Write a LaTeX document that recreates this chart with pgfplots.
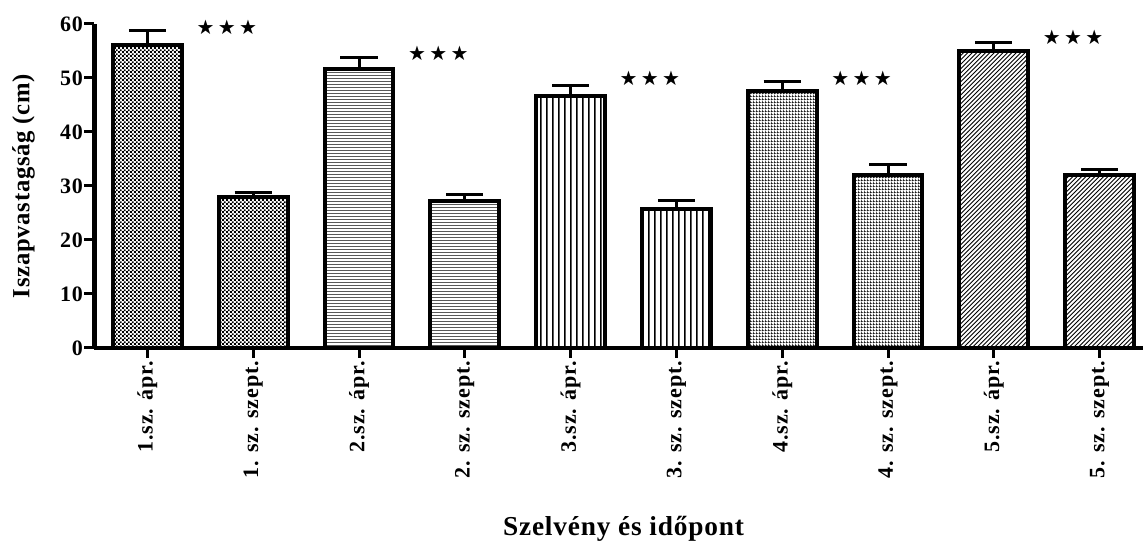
\documentclass[border=0pt]{standalone}
\usepackage{fontspec}
\setmainfont{Liberation Serif}
\newfontfamily\starfont{DejaVu Sans}
\newfontfamily\tickff[LetterSpace=4]{Liberation Serif}
\newfontfamily\ylff[LetterSpace=3]{Liberation Serif}
\newfontfamily\xlff[LetterSpace=3]{Liberation Serif}
\usepackage{pgfplots}
\pgfplotsset{compat=1.18}
\usetikzlibrary{patterns}

\pgfdeclarepatternformonly{pchecker}{\pgfpointorigin}{\pgfpoint{3.2pt}{3.2pt}}{\pgfpoint{3.2pt}{3.2pt}}{%
  \pgfpathrectangle{\pgfpointorigin}{\pgfpoint{1.6pt}{1.6pt}}%
  \pgfpathrectangle{\pgfpoint{1.6pt}{1.6pt}}{\pgfpoint{1.6pt}{1.6pt}}%
  \pgfusepath{fill}}
\pgfdeclarepatternformonly{phlines}{\pgfpointorigin}{\pgfpoint{4pt}{2.25pt}}{\pgfpoint{4pt}{2.25pt}}{%
  \pgfpathrectangle{\pgfpoint{0pt}{0pt}}{\pgfpoint{4pt}{0.7pt}}\pgfusepath{fill}}
\pgfdeclarepatternformonly{pvlines}{\pgfpointorigin}{\pgfpoint{4.5pt}{4pt}}{\pgfpoint{4.5pt}{4pt}}{%
  \pgfpathrectangle{\pgfpoint{0pt}{0pt}}{\pgfpoint{1.4pt}{4pt}}\pgfusepath{fill}}
\pgfdeclarepatternformonly{pgrid}{\pgfpointorigin}{\pgfpoint{2.25pt}{2.25pt}}{\pgfpoint{2.25pt}{2.25pt}}{%
  \pgfpathrectangle{\pgfpointorigin}{\pgfpoint{0.7pt}{2.25pt}}%
  \pgfpathrectangle{\pgfpointorigin}{\pgfpoint{2.25pt}{0.7pt}}\pgfusepath{fill}}
\pgfdeclarepatternformonly{pdiag}{\pgfpoint{-1pt}{-1pt}}{\pgfpoint{4.3pt}{4.3pt}}{\pgfpoint{3.3pt}{3.3pt}}{%
  \pgfsetlinewidth{0.65pt}\pgfpathmoveto{\pgfpoint{0pt}{0pt}}\pgfpathlineto{\pgfpoint{3.4pt}{3.4pt}}\pgfusepath{stroke}}

\pgfplotsset{
  barsty/.style={ybar, bar width=0.65, bar shift=0pt, draw=black, line width=3pt,
    error bars/y dir=plus, error bars/y explicit,
    error bars/error bar style={line width=2.25pt, black, solid},
    error bars/error mark options={rotate=90, mark size=13.9pt, line width=2.25pt, black}},
}

\begin{document}
\begin{tikzpicture}
\useasboundingbox (-70.875pt,-144.75pt) rectangle (786.375pt,261pt);
\begin{axis}[
  width=793.5pt, height=243pt, scale only axis,
  xmin=-0.5, xmax=9.5, ymin=0, ymax=60,
  clip=false,
  axis x line*=bottom, axis y line*=left,
  axis line style={line width=3.5pt, -},
  xtick={0,...,9},
  xticklabels={1.sz. ápr., 1. sz. szept., 2.sz. ápr., 2. sz. szept., 3.sz. ápr., 3. sz. szept., 4.sz. ápr., 4. sz. szept., 5.sz. ápr., 5. sz. szept.},
  ytick={0,10,...,60},
  tick align=outside, major tick length=7.5pt,
  tick style={line width=2.25pt, black},
  /pgf/number format/assume math mode=true,
  yticklabel style={font=\tickff\bfseries\fontsize{16.5pt}{16.5pt}\selectfont, inner sep=1pt},
  xticklabel style={font=\tickff\bfseries\fontsize{16.5pt}{16.5pt}\selectfont, rotate=90, anchor=east, inner sep=2pt},
  ylabel={Iszapvastagság (cm)},
  ylabel style={font=\ylff\bfseries\fontsize{18.5pt}{18.5pt}\selectfont, at={(axis description cs:-0.078,0.5)}, anchor=north, inner sep=0pt},
  xlabel={Szelvény és időpont},
  xlabel style={font=\xlff\bfseries\fontsize{20.5pt}{20.5pt}\selectfont, at={(axis description cs:0.5,-0.5772)}, anchor=base, inner sep=0pt},
]
\addplot[barsty, pattern=pchecker] coordinates {(0,56.2) +- (0,2.6) (1,27.9) +- (0,0.9)};
\addplot[barsty, pattern=phlines] coordinates {(2,51.7) +- (0,2.1) (3,27.3) +- (0,1.1)};
\addplot[barsty, pattern=pvlines] coordinates {(4,46.7) +- (0,1.85) (5,25.7) +- (0,1.6)};
\addplot[barsty, pattern=pgrid] coordinates {(6,47.5) +- (0,1.8) (7,32.1) +- (0,1.8)};
\addplot[barsty, pattern=pdiag] coordinates {(8,55.0) +- (0,1.5) (9,32.1) +- (0,1.0)};
\addplot[draw=none, mark=none,
  nodes near coords={\starfont\fontsize{15pt}{15pt}\selectfont ★\,★\,★},
  every node near coord/.append style={anchor=center, inner sep=0pt}]
  coordinates {(0.75,59.4) (2.75,54.6) (4.75,50.0) (6.75,50.0) (8.75,57.6)};
\end{axis}
\end{tikzpicture}
\end{document}
